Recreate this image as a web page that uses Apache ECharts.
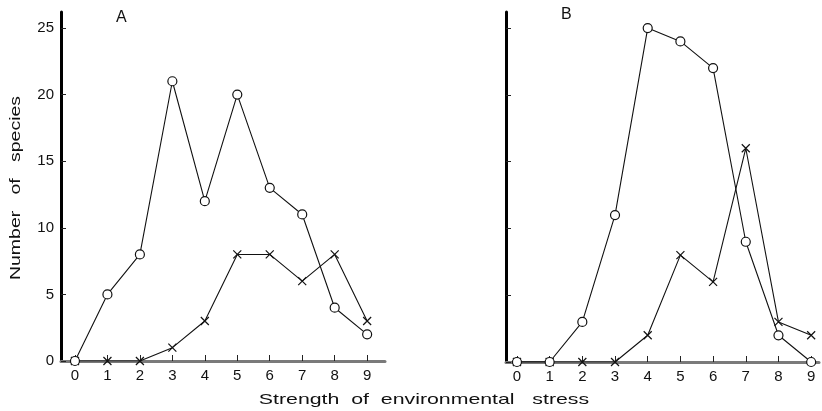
<!DOCTYPE html>
<html><head><meta charset="utf-8">
<script src="https://cdn.jsdelivr.net/npm/echarts@6/dist/echarts.min.js"></script>
<style>html,body{margin:0;padding:0;background:#fff}#c{width:822px;height:411px}</style>
</head><body><div id="c"></div>
<script>
const xTicks = [0,1,2,3,4,5,6,7,8,9];
const yTicks = [0,5,10,15,20,25];
const circlesA = [0,5,8,21,12,20,13,11,4,2];
const crossesA = [0,0,0,1,3,8,8,6,8,3];
const circlesB = [0,0,3,11,25,24,22,9,2,0];
const crossesB = [0,0,0,0,2,8,6,16,3,2];

const FONT = '"Liberation Sans", Arial, sans-serif';
const crossPath = 'path://M0,0L10,10M10,0L0,10';

function pairs(arr){ return arr.map((v,i)=>[xTicks[i], v]); }

function xAxis(idx, min, max){
  return {
    type:'value', gridIndex: idx, min, max,
    axisLine:{show:true, onZero:false, lineStyle:{color:'#7a7a7a', width:3}},
    axisTick:{show:true, inside:true, length:6, customValues:xTicks, lineStyle:{color:'#222', width:1}},
    axisLabel:{show:true, customValues:xTicks, color:'#111', fontSize:15, fontFamily:FONT, margin:7},
    splitLine:{show:false}
  };
}
function yAxis(idx, showLabels){
  return {
    type:'value', gridIndex: idx, min:0, max:26.2,
    axisLine:{show:true, onZero:false, lineStyle:{color:'#000', width:3}},
    axisTick:{show:true, inside:true, length:5, customValues:yTicks, lineStyle:{color:'#222', width:1}},
    axisLabel:{show:showLabels, customValues:yTicks, color:'#111', fontSize:15, fontFamily:FONT, margin:7},
    splitLine:{show:false}
  };
}
function circleSeries(idx, data){
  return {type:'line', xAxisIndex:idx, yAxisIndex:idx, data:pairs(data), symbol:'circle', symbolSize:9,
    lineStyle:{color:'#111', width:1.1}, itemStyle:{color:'#fff', borderColor:'#111', borderWidth:1.2},
    z:5, animation:false};
}
function crossSeries(idx, data){
  return {type:'line', xAxisIndex:idx, yAxisIndex:idx, data:pairs(data), symbol:crossPath, symbolSize:8,
    lineStyle:{color:'#111', width:1.1}, itemStyle:{color:'none', borderColor:'#111', borderWidth:1.2},
    z:4, animation:false};
}

const chart = echarts.init(document.getElementById('c'), null, {renderer:'canvas'});
chart.setOption({
  backgroundColor:'#fff',
  animation:false,
  grid:[
    {left:61, right:437, top:12, bottom:50},
    {left:506, right:3, top:12, bottom:49}
  ],
  xAxis:[xAxis(0,-0.43,9.55), xAxis(1,-0.335,9.24)],
  yAxis:[yAxis(0,true), yAxis(1,false)],
  series:[circleSeries(0,circlesA), crossSeries(0,crossesA), circleSeries(1,circlesB), crossSeries(1,crossesB)],
  graphic:[
    {type:'text', left:116, top:10, style:{text:'A', font:'16px '+FONT, fill:'#111'}},
    {type:'text', left:561, top:7, style:{text:'B', font:'16px '+FONT, fill:'#111'}},
    {type:'text', x:16, y:188, rotation:Math.PI/2, scaleX:1.3,
      style:{text:'Number   of   species', font:'15px '+FONT, fill:'#111', align:'center', verticalAlign:'middle'}},
    {type:'text', x:424, y:400, scaleX:1.42,
      style:{text:'Strength  of  environmental   stress', font:'15px '+FONT, fill:'#111', align:'center', verticalAlign:'middle'}}
  ]
});
</script></body></html>
